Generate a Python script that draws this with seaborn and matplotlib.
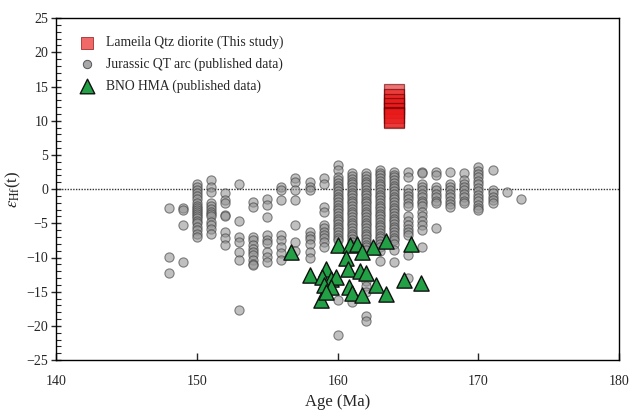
import numpy as np
import pandas as pd
import matplotlib
matplotlib.use("Agg")
import matplotlib.pyplot as plt
import seaborn as sns
from matplotlib.ticker import MultipleLocator

# Lameila Qtz diorite (this study)
lameila_age = [164.0, 164.0, 164.0, 164.0, 164.0, 164.0, 164.0]
lameila_ehf = [13.9, 13.2, 12.5, 11.8, 11.2, 10.6, 10.4]

# Jurassic QT arc (published data): one list of eHf(t) per age column
qt_ages = [148, 149, 150, 151, 152, 153, 154, 155, 156, 157, 158, 159, 160,
           161, 162, 163, 164, 165, 166, 167, 168, 169, 170, 171, 172, 173]
qt_values = [
    [-2.8, -9.9, -12.3],
    [-2.8, -3.1, -5.2, -10.6],
    [0.8, 0.3, -0.2, -0.6, -1.0, -1.5, -2.0, -2.4, -2.8, -3.0, -3.3, -3.7, -4.0,
     -4.2, -4.6, -5.0, -5.5, -6.0, -6.5, -7.0],
    [1.3, 0.3, -0.4, -2.1, -2.5, -2.9, -3.3, -3.6, -4.0, -4.8, -5.3, -5.8, -6.5],
    [-0.6, -1.6, -2.1, -3.8, -4.0, -6.2, -7.2, -8.2],
    [0.8, -4.6, -7.0, -7.7, -9.2, -10.4, -17.7],
    [-1.9, -2.6, -7.0, -7.4, -8.2, -8.7, -9.2, -9.7, -10.4, -10.9, -11.1],
    [-1.4, -2.3, -4.1, -6.7, -7.4, -7.9, -9.2, -9.9, -10.6],
    [0.3, -0.2, -1.6, -6.7, -7.5, -8.4, -9.4, -10.4],
    [1.6, 1.1, -0.2, -1.6, -5.3, -7.7, -9.0],
    [1.1, 0.3, -0.2, -6.2, -6.8, -7.3, -8.0, -9.2, -10.0],
    [1.6, 0.8, -2.6, -3.3, -5.2, -5.7, -6.2, -6.7, -7.2, -7.7, -8.5],
    [3.5, 2.8, 1.8, 1.3, 0.9, 0.5, 0.1, -0.3, -0.7, -1.1, -1.5, -1.9, -2.3,
     -2.7, -3.1, -3.5, -3.9, -4.3, -4.7, -5.1, -5.5, -5.9, -6.3, -6.7, -7.1,
     -7.5, -16.2, -21.3],
    [2.3, 1.9, 1.5, 1.1, 0.7, 0.3, -0.1, -0.5, -0.9, -1.3, -1.7, -2.1, -2.5,
     -2.9, -3.3, -3.7, -4.1, -4.5, -4.9, -5.3, -5.7, -6.1, -6.5, -6.9, -7.3,
     -7.7, -8.1, -8.4, -16.5],
    [2.3, 1.9, 1.5, 1.1, 0.7, 0.3, -0.1, -0.5, -0.9, -1.3, -1.7, -2.1, -2.5,
     -2.9, -3.3, -3.7, -4.1, -4.5, -4.9, -5.3, -5.7, -6.1, -6.5, -6.9, -7.3,
     -7.7, -8.1, -8.5, -8.9, -13.5, -14.2, -15.0, -18.5, -19.3],
    [2.8, 2.4, 2.0, 1.6, 1.2, 0.8, 0.4, 0.0, -0.4, -0.8, -1.2, -1.6, -2.0,
     -2.4, -2.8, -3.2, -3.6, -4.0, -4.4, -4.8, -5.2, -5.6, -6.0, -6.4, -6.8,
     -7.2, -7.6, -8.0, -8.4, -9.0, -10.5],
    [2.5, 2.1, 1.7, 1.3, 0.9, 0.5, 0.1, -0.3, -0.7, -1.1, -1.5, -1.9, -2.3,
     -2.7, -3.1, -3.5, -3.9, -4.3, -4.7, -5.1, -5.5, -5.9, -6.3, -6.7, -7.1,
     -7.5, -8.0, -8.9, -10.7],
    [2.5, 1.8, 0.0, -0.5, -1.0, -1.5, -2.0, -2.4, -4.0, -4.6, -5.2, -5.8,
     -6.3, -6.7, -9.6, -13.0],
    [2.5, 2.3, 0.8, 0.3, -0.2, -0.7, -1.2, -1.7, -2.1, -2.4, -3.4, -4.0,
     -4.6, -5.2, -6.0, -8.4],
    [2.5, 2.0, 0.3, -0.2, -0.7, -1.2, -1.7, -2.1, -5.7],
    [2.5, 0.8, 0.3, -0.2, -0.7, -1.2, -1.7, -2.2, -2.6],
    [2.3, 1.3, 0.8, 0.3, -0.2, -0.7, -1.2, -1.7, -2.1],
    [3.2, 2.7, 2.2, 1.7, 1.2, 0.7, 0.2, -0.3, -0.8, -1.3, -1.8, -2.3, -2.7, -3.1],
    [2.8, -0.1, -0.6, -1.1, -1.6, -2.1],
    [-0.4],
    [-1.5],
]

# BNO HMA (published data)
bno_age = [156.7, 160.0, 160.9, 161.4, 162.5, 163.4, 165.2, 161.7, 160.6, 160.7,
           161.6, 162.0, 158.0, 159.2, 158.9, 159.5, 159.9, 159.0, 159.5, 160.8,
           161.0, 161.7, 162.7, 163.4, 164.7, 165.9, 158.8, 159.2]
bno_ehf = [-9.2, -8.2, -8.2, -8.0, -8.4, -7.6, -8.0, -9.2, -10.0, -11.7,
           -12.0, -12.2, -12.6, -11.7, -12.8, -13.2, -12.9, -14.0, -14.3, -14.3,
           -15.2, -15.5, -14.0, -15.4, -13.3, -13.7, -16.2, -15.0]

qt_age = [a for a, vals in zip(qt_ages, qt_values) for _ in vals]
qt_ehf = [v for vals in qt_values for v in vals]

sns.set_style("ticks")
plt.rcParams['font.family'] = ['Liberation Serif', 'DejaVu Serif']
plt.rcParams['mathtext.fontset'] = 'stix'

fig = plt.figure(figsize=(6.3, 4.12), dpi=100)
ax = fig.add_axes([0.089, 0.126, 0.894, 0.830])

ax.axhline(0, color='#333333', linestyle=(0, (1, 1)), linewidth=1.0, zorder=1)

sns.scatterplot(x=qt_age, y=qt_ehf, ax=ax, marker='o', s=44, color='#969696',
                edgecolor='#3c3c3c', linewidth=0.8, alpha=0.6, zorder=2)
sns.scatterplot(x=bno_age, y=bno_ehf, ax=ax, marker='^', s=120, color='#22a045',
                edgecolor='#111111', linewidth=1.0, zorder=3)
sns.scatterplot(x=lameila_age, y=lameila_ehf, ax=ax, marker='s', s=190,
                color='#e81818', edgecolor='#5a0000', linewidth=0.9, alpha=0.6,
                zorder=4)

# legend
h1 = ax.scatter([], [], marker='s', s=70, color='#f06868', edgecolor='#a03030', linewidth=0.6)
h2 = ax.scatter([], [], marker='o', s=36, color='#a8a8a8', edgecolor='#555555', linewidth=0.7)
h3 = ax.scatter([], [], marker='^', s=110, color='#22a045', edgecolor='#111111', linewidth=1.0)
ax.legend([h1, h2, h3],
          ['Lameila Qtz diorite (This study)', 'Jurassic QT arc (published data)',
           'BNO HMA (published data)'],
          loc='upper left', frameon=False, fontsize=9.8, handletextpad=0.4,
          labelspacing=0.6, borderaxespad=0.9, bbox_to_anchor=(0.0, 1.0))

ax.set_xlim(140, 180)
ax.set_ylim(-25, 25)
ax.xaxis.set_major_locator(MultipleLocator(10))
ax.yaxis.set_major_locator(MultipleLocator(5))
ax.yaxis.set_minor_locator(MultipleLocator(1))
ax.tick_params(axis='y', which='major', direction='inout', length=7, width=1.0, labelsize=10, pad=2)
ax.tick_params(axis='y', which='minor', direction='in', length=3.5, width=0.8)
ax.tick_params(axis='x', which='major', direction='in', length=5, width=1.0, labelsize=10, pad=11)
for sp in ax.spines.values():
    sp.set_linewidth(1.0)
    sp.set_color('black')

ax.set_xlabel('Age (Ma)', fontsize=12, labelpad=4)
ax.set_ylabel(r'$\varepsilon_{\rm Hf}$(t)', fontsize=12, labelpad=3)

fig.savefig('out.png', dpi=100)
